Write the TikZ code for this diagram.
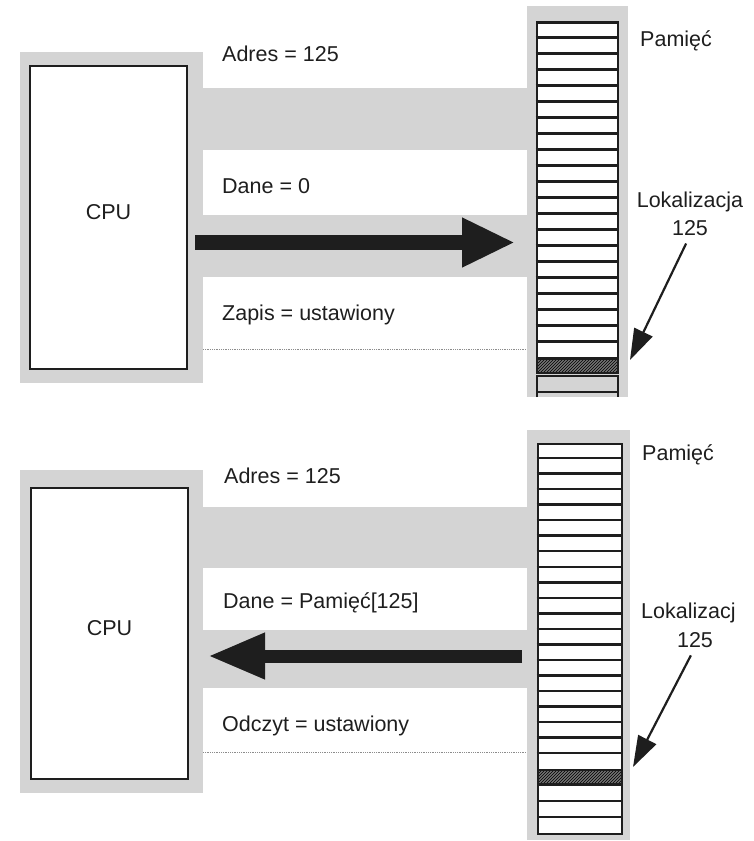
\documentclass[tikz,border=0pt]{standalone}
\usepackage{fontspec}
\setmainfont{Liberation Sans}
\usetikzlibrary{arrows.meta,patterns}
\definecolor{ink}{HTML}{1E1E1E}
\definecolor{halo}{HTML}{D4D4D4}

\begin{document}
\begin{tikzpicture}[x=1pt,y=-1pt,font=\fontsize{21.5}{24}\selectfont,
  txt/.style={text=ink,anchor=base west,inner sep=0pt},
  ctxt/.style={text=ink,anchor=base,inner sep=0pt},
  cpubox/.style={draw=ink,line width=2.8pt,fill=white,text=ink,minimum width=157pt,inner sep=0pt,text height=16pt,text depth=13pt},
  membox/.style={draw=ink,line width=2.8pt,fill=white,inner sep=0pt},
  cellrow/.style={draw=ink,line width=2.5pt},
  hot/.style={draw=ink,line width=2pt,inner sep=0pt,preaction={fill=black!55},pattern=north east lines,pattern color=black},
  bus/.style={draw=ink,line width=15pt,-{Triangle[length=53pt,width=46pt]}},
  busback/.style={draw=ink,line width=13pt,-{Triangle[length=57pt,width=43pt]}},
  pointer/.style={draw=ink,line width=2.2pt,-{Triangle[length=31pt,width=20pt]}},
  dots/.style={densely dotted,draw=black!45,line width=0.8pt}]
\useasboundingbox (0,0) rectangle (754,841);

% --- zapis (write) ---
\fill[halo] (203,88) rectangle (527,150);
\fill[halo] (203,215) rectangle (527,277);
\draw[dots] (203,349) -- (527,349);
\fill[halo] (20,52) rectangle (203,383);
\fill[halo] (527,6) rectangle (628,397);
\node[cpubox,minimum height=303pt] (cpu1) at (108.5,217.5) {CPU};
\node[membox,minimum width=81pt,minimum height=336pt] (mem1) at (577.5,190.7) {};
\foreach \k in {1,...,20}
  \draw[cellrow] ([yshift=-16*\k pt]mem1.north west) -- ([yshift=-16*\k pt]mem1.north east);
\node[hot,minimum width=81pt,minimum height=14pt] (hot1) at (577.5,366) {};
\draw[cellrow] (537,397) |- (618,376) -- (618,397);
\draw[cellrow] (537,392) -- (618,392);
\node[txt] (adr1) at (222,61) {Adres = 125};
\node[txt] (dat1) at (222,193) {Dane = 0};
\node[txt] (wr1) at (222,320) {Zapis = ustawiony};
\node[txt] (pam1) at (640,46) {Pamięć};
\node[ctxt] (loc1) at (690,207) {Lokalizacja};
\node[ctxt] (num1) at (690,235) {125};
\coordinate (d1) at (195,242.5);
\coordinate (m1) at (515,242.5);
\coordinate (tip1) at (630,360);
\draw[bus] (d1) -- (m1);
\draw[pointer,shorten <=9pt] (num1.south) -- (tip1);

% --- odczyt (read) ---
\fill[halo] (203,507) rectangle (530,568);
\fill[halo] (203,630) rectangle (530,688);
\draw[dots] (203,752) -- (530,752);
\fill[halo] (20,470) rectangle (203,793);
\fill[halo] (527,430) rectangle (630,840);
\node[cpubox,minimum height=291pt] (cpu2) at (109.5,633.5) {CPU};
\node[membox,minimum width=84pt,minimum height=326pt] (mem2) at (580,607) {};
\foreach \k in {1,...,20}
  \draw[cellrow] ([yshift=-15.52*\k pt]mem2.north west) -- ([yshift=-15.52*\k pt]mem2.north east);
\node[hot,minimum width=84pt,minimum height=14pt] (hot2) at (580,777) {};
\node[membox,minimum width=84pt,minimum height=49pt] (low2) at (580,809.5) {};
\draw[cellrow] (538,801) -- (622,801);
\draw[cellrow] (538,817) -- (622,817);
\node[txt] (adr2) at (224,483) {Adres = 125};
\node[txt] (dat2) at (223,608) {Dane = Pamięć[125]};
\node[txt] (rd2) at (222,731) {Odczyt = ustawiony};
\node[txt] (pam2) at (642,460) {Pamięć};
\node[txt] (loc2) at (641,618) {Lokalizacj};
\node[ctxt] (num2) at (695,647) {125};
\coordinate (m2) at (522,656);
\coordinate (d2) at (208,656);
\coordinate (tip2) at (633,767);
\draw[busback] (m2) -- (d2);
\draw[pointer,shorten <=9pt] (num2.south) -- (tip2);
\end{tikzpicture}
\end{document}
